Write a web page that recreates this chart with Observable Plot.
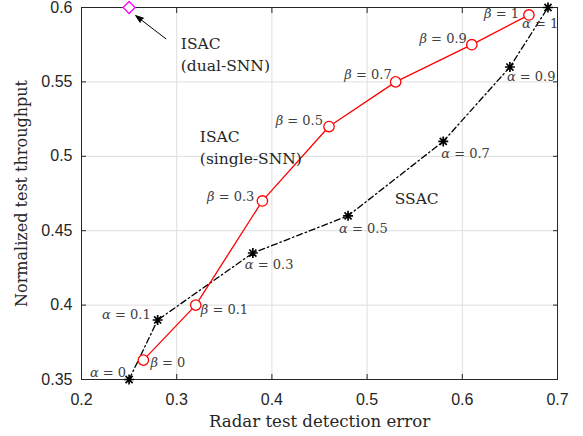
<!DOCTYPE html>
<html>
<head>
<meta charset="utf-8">
<script src="https://cdn.jsdelivr.net/npm/d3@7"></script>
<script src="https://cdn.jsdelivr.net/npm/@observablehq/plot@0.6"></script>
<style>
  html, body { margin: 0; padding: 0; background: #fff; }
</style>
</head>
<body>
<div id="chart"></div>
<script>
// ---- data ----
const alphaVals = [0, 0.1, 0.3, 0.5, 0.7, 0.9, 1];
const ssacX = [0.25, 0.28, 0.38, 0.48, 0.58, 0.65, 0.69];
const ssacY = [0.35, 0.39, 0.435, 0.46, 0.51, 0.56, 0.6];

const betaVals = [0, 0.1, 0.3, 0.5, 0.7, 0.9, 1];
const isacX = [0.265, 0.32, 0.39, 0.46, 0.53, 0.61, 0.67];
const isacY = [0.363, 0.40, 0.47, 0.52, 0.55, 0.575, 0.595];

const dualX = [0.25];
const dualY = [0.6];

const xTicks = [0.2, 0.3, 0.4, 0.5, 0.6, 0.7];
const yTicks = [0.35, 0.4, 0.45, 0.5, 0.55, 0.6];

const xTitle = "Radar test detection error";
const yTitle = "Normalized test throughput";

const annoText = ["ISAC\n(dual-SNN)", "ISAC\n(single-SNN)", "SSAC"];
const annoX = [0.3043, 0.3243, 0.529];
const annoY = [0.5824, 0.520, 0.4784];

const arrowFrom = [0.2886, 0.579];
const arrowTo = [0.257, 0.5945];

// label placement (layout only): anchor, dx, dy in pixels
const ssacLabelLayout = [
  ["end", -3, -7], ["end", -7, -5], ["start", -8, 12], ["start", -9, 13],
  ["start", -2, 12], ["start", -3, 10], ["start", -26, 16]
];
const isacLabelLayout = [
  ["start", 7, 3], ["start", 5, 5], ["end", -8, -4], ["end", -6, -6],
  ["end", -4, -7], ["end", -5, -6], ["end", -10, -1]
];

const ssac = alphaVals.map((a, i) => ({p: a, x: ssacX[i], y: ssacY[i], label: `α = ${a}`}));
const isac = betaVals.map((b, i) => ({p: b, x: isacX[i], y: isacY[i], label: `β = ${b}`}));
const dual = dualX.map((x, i) => ({x, y: dualY[i]}));
const annos = annoText.map((t, i) => ({t, x: annoX[i], y: annoY[i]}));

// MATLAB-like '*' marker (plus + cross)
const star8 = {
  draw(context, size) {
    const r = Math.sqrt(size / Math.PI);
    const d = r * Math.SQRT1_2;
    context.moveTo(-r, 0); context.lineTo(r, 0);
    context.moveTo(0, -r); context.lineTo(0, r);
    context.moveTo(-d, -d); context.lineTo(d, d);
    context.moveTo(-d, d); context.lineTo(d, -d);
  }
};

const serif = "DejaVu Serif";
const axisColor = "#262626";
const labelColor = "#404040";
const noText = () => "";

const labelMarks = [
  ...ssac.map((d, i) => Plot.text([d], {
    x: "x", y: "y", text: "label", textAnchor: ssacLabelLayout[i][0],
    dx: ssacLabelLayout[i][1], dy: ssacLabelLayout[i][2],
    fontFamily: serif, fontSize: 13, fill: labelColor
  })),
  ...isac.map((d, i) => Plot.text([d], {
    x: "x", y: "y", text: "label", textAnchor: isacLabelLayout[i][0],
    dx: isacLabelLayout[i][1], dy: isacLabelLayout[i][2],
    fontFamily: serif, fontSize: 13, fill: labelColor
  }))
];

const chart = Plot.plot({
  width: 583,
  height: 436,
  marginLeft: 81,
  marginRight: 26,
  marginTop: 7,
  marginBottom: 57,
  style: {fontFamily: "Liberation Sans", fontSize: "16px", color: axisColor, background: "#fff"},
  x: {domain: [0.2, 0.7]},
  y: {domain: [0.35, 0.6]},
  marks: [
    Plot.gridX(xTicks, {stroke: "#dedede", strokeOpacity: 1}),
    Plot.gridY(yTicks, {stroke: "#dedede", strokeOpacity: 1}),
    Plot.frame({stroke: axisColor, strokeWidth: 1}),
    Plot.axisX(xTicks, {tickSize: 0, tickPadding: 14, label: null, tickFormat: d => String(d), fontSize: 16}),
    Plot.axisX(xTicks, {tickSize: -5, tickFormat: noText, label: null}),
    Plot.axisX(xTicks, {anchor: "top", tickSize: -5, tickFormat: noText, label: null}),
    Plot.axisY(yTicks, {tickSize: 0, tickPadding: 9, label: null, tickFormat: d => String(d), fontSize: 16}),
    Plot.axisY(yTicks, {anchor: "left", tickSize: -5, tickFormat: noText, label: null}),
    Plot.axisY(yTicks, {anchor: "right", tickSize: -5, tickFormat: noText, label: null}),

    Plot.line(ssac, {x: "x", y: "y", stroke: "black", strokeWidth: 1.3, strokeDasharray: "6,3,1.5,3"}),
    Plot.line(isac, {x: "x", y: "y", stroke: "#ff0000", strokeWidth: 1.3}),
    Plot.dot(ssac, {x: "x", y: "y", symbol: star8, r: 5, stroke: "black", strokeWidth: 1.7}),
    Plot.dot(isac, {x: "x", y: "y", symbol: "circle", r: 5.2, stroke: "#ff0000", strokeWidth: 1.3, fill: "white"}),
    Plot.dot(dual, {x: "x", y: "y", symbol: "diamond2", r: 5.4, stroke: "#ff00ff", strokeWidth: 1.3, fill: "white"}),

    Plot.arrow([0], {
      x1: () => arrowFrom[0], y1: () => arrowFrom[1], x2: () => arrowTo[0], y2: () => arrowTo[1],
      stroke: "black", fill: "black", strokeWidth: 1, headLength: 12, headAngle: 40, bend: 0
    }),

    ...labelMarks,

    Plot.text(annos, {
      x: "x", y: "y", text: "t", textAnchor: "start", lineAnchor: "top", lineHeight: 1.42,
      fontFamily: serif, fontSize: 15.5, fill: axisColor
    }),

    Plot.text([xTitle], {text: d => d, frameAnchor: "bottom", textAnchor: "middle", lineAnchor: "middle", dy: 42.5, fontFamily: serif, fontSize: 16.6, fill: axisColor}),
    Plot.text([yTitle], {text: d => d, frameAnchor: "left", textAnchor: "middle", lineAnchor: "middle", rotate: -90, dx: -60, fontFamily: serif, fontSize: 16, fill: axisColor})
  ]
});

// italicise the Greek parameter symbols
chart.querySelectorAll("text").forEach(t => {
  const s = t.textContent;
  if (t.children.length === 0 && (s.startsWith("α") || s.startsWith("β"))) {
    const sym = s[0];
    const rest = s.slice(1);
    t.textContent = "";
    const ns = "http://www.w3.org/2000/svg";
    const a = document.createElementNS(ns, "tspan");
    a.setAttribute("font-style", "italic");
    a.textContent = sym;
    t.appendChild(a);
    t.appendChild(document.createTextNode(rest));
  }
});

document.getElementById("chart").appendChild(chart);
</script>
</body>
</html>
